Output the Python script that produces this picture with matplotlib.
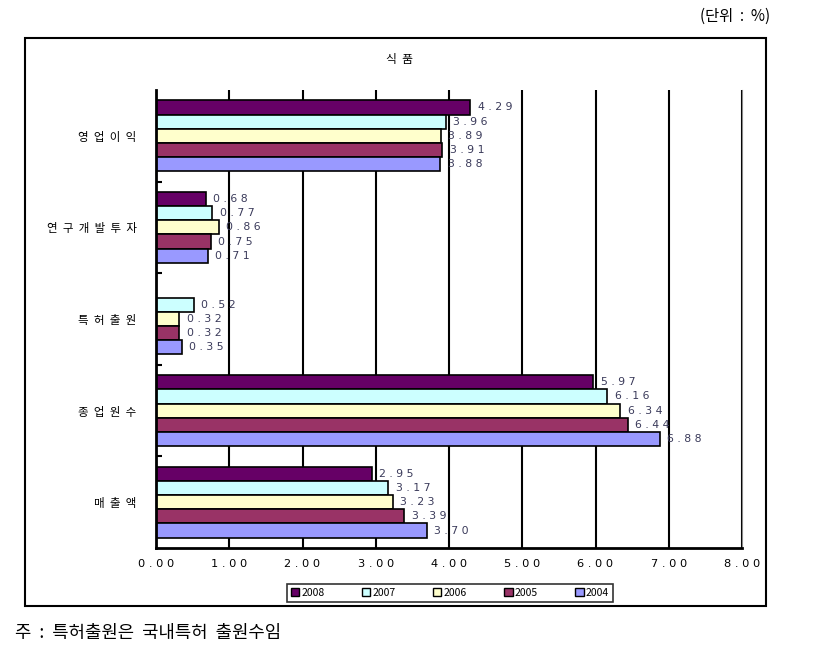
import numpy as np
import matplotlib.pyplot as plt
from matplotlib.patches import Rectangle, Patch

plt.rcParams['font.family'] = ['Noto Sans CJK KR', 'DejaVu Sans']

# data
categories = ['영업이익', '연구개발투자', '특허출원', '종업원수', '매출액']
years = ['2008', '2007', '2006', '2005', '2004']
v2008 = [4.29, 0.68, np.nan, 5.97, 2.95]
v2007 = [3.96, 0.77, 0.52, 6.16, 3.17]
v2006 = [3.89, 0.86, 0.32, 6.34, 3.23]
v2005 = [3.91, 0.75, 0.32, 6.44, 3.39]
v2004 = [3.88, 0.71, 0.35, 6.88, 3.70]
series = [v2008, v2007, v2006, v2005, v2004]
colors = ['#660066', '#CCFFFF', '#FFFFCC', '#993366', '#9999FF']


def spaced(s, sep=' '):
    return sep.join(s)


fig = plt.figure(figsize=(8.17, 6.52), dpi=100)
ax = fig.add_axes([156 / 817, 1 - 548 / 652, (742 - 156) / 817, (548 - 90) / 652])

h = 0.155
ypos = np.arange(len(categories))
for j, (vals, c) in enumerate(zip(series, colors)):
    y = ypos + (j - 2) * h
    ax.barh(y, vals, height=h, color=c, edgecolor='black', linewidth=1.2)
    for yi, v in zip(y, vals):
        if np.isnan(v):
            continue
        ax.text(v + 0.1, yi, spaced(f'{v:.2f}'), va='center', ha='left',
                fontsize=7.8, color='#3a3a5a', family='DejaVu Sans')

ax.set_xlim(0, 8)
ax.set_ylim(len(categories) - 0.5, -0.5)
ax.set_xticks(np.arange(0, 9))
ax.set_xticklabels([spaced(f'{x:.2f}') for x in np.arange(0, 9)], fontsize=8.2,
                   family='DejaVu Sans')
ax.set_yticks(ypos)
ax.set_yticklabels([spaced(c, '  ') for c in categories], fontsize=8.3)
ax.tick_params(axis='y', length=0, pad=14)
ax.set_yticks(np.arange(0.5, len(categories) - 0.5), minor=True)
ax.tick_params(axis='y', which='minor', direction='in', length=4, width=1.5)
ax.tick_params(axis='x', length=0, pad=8)
ax.xaxis.grid(True, color='black', linewidth=1.5)
ax.set_axisbelow(True)
ax.spines['top'].set_visible(False)
ax.spines['right'].set_color('#888888')
ax.spines['left'].set_linewidth(2)
ax.spines['bottom'].set_linewidth(2)

# title and notes
fig.text(400 / 817, 1 - 60 / 652, '식  품', ha='center', va='center', fontsize=8.5)
fig.text(770 / 817, 1 - 16 / 652, '(단위  :  %)', ha='right', va='center', fontsize=11)
fig.text(15 / 817, 1 - 633 / 652, '주  :  특허출원은  국내특허  출원수임', ha='left', va='center',
         fontsize=12.8)

# outer frame
fig.patches.append(Rectangle((25 / 817, 1 - 606 / 652), (766 - 25) / 817, (606 - 38) / 652,
                             transform=fig.transFigure, fill=False, edgecolor='black', linewidth=1.5))

# legend
handles = [Patch(facecolor=c, edgecolor='black', label=y) for y, c in zip(years, colors)]
leg = fig.legend(handles=handles, loc='center', bbox_to_anchor=(450 / 817, 1 - 593 / 652),
                 ncol=5, fontsize=7.5, frameon=True, fancybox=False, handlelength=0.8,
                 handleheight=0.8, handletextpad=0.2, columnspacing=3.6, borderpad=0.35)
leg.get_frame().set_edgecolor('black')
leg.get_frame().set_linewidth(1.2)

fig.savefig('out.png', dpi=100)
